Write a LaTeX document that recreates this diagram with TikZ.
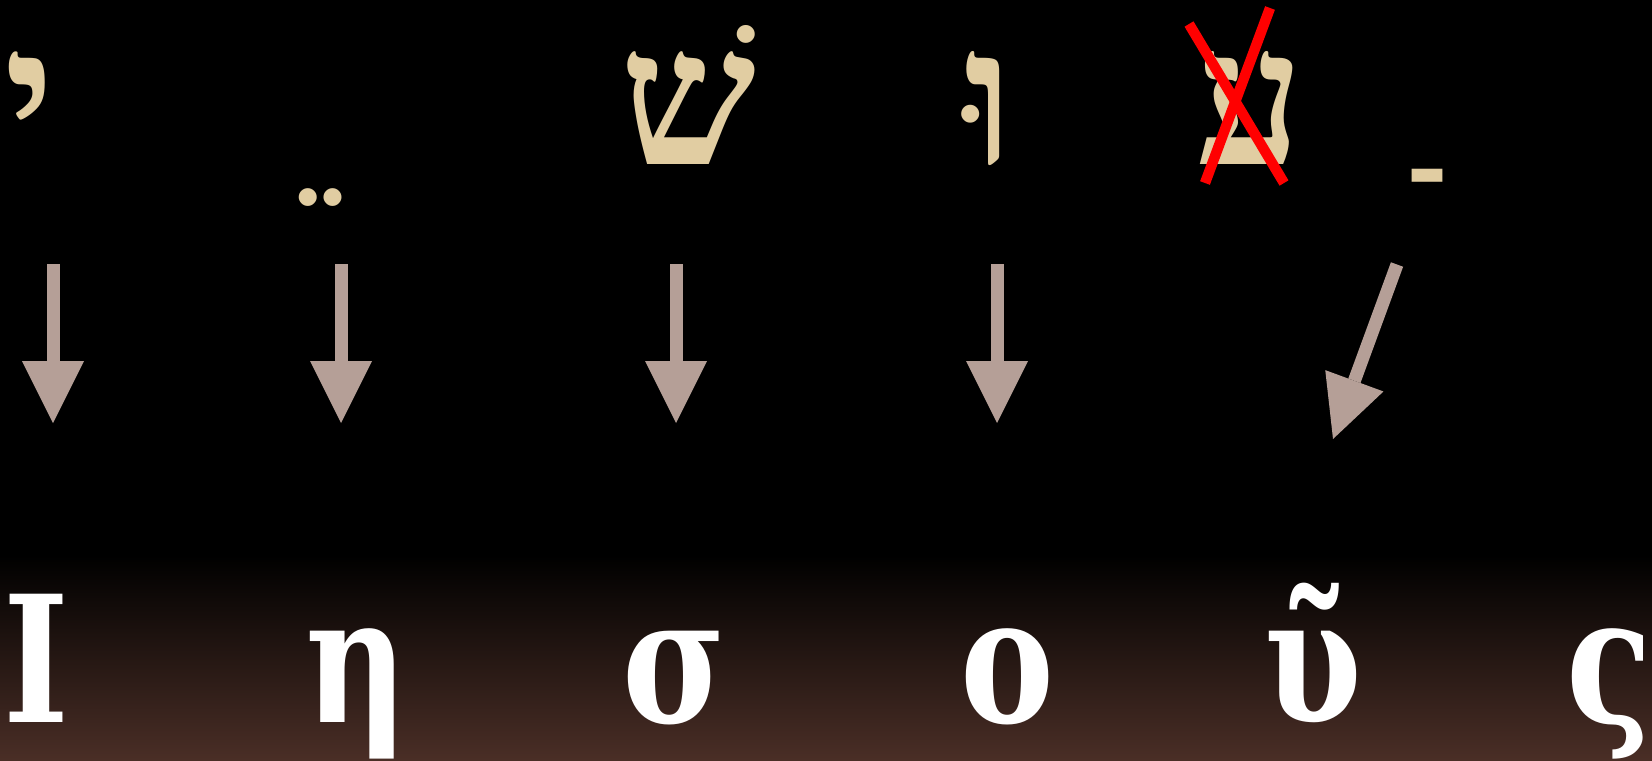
\documentclass[tikz,border=0pt]{standalone}
\usepackage{fontspec}
\usetikzlibrary{arrows.meta}
\TeXXeTstate=1
\newfontfamily\hebfont[Script=Hebrew]{Liberation Serif}
\newfontfamily\grkfont[FakeStretch=0.8]{DejaVu Serif}
\definecolor{hebc}{RGB}{225,205,162}
\definecolor{arrc}{RGB}{181,159,151}
\definecolor{bgbot}{RGB}{74,46,38}
\definecolor{xred}{RGB}{255,0,0}
\begin{document}
\begin{tikzpicture}[x=0.5pt,y=-0.5pt,
  heb/.style={text=hebc, inner sep=0pt, anchor=base, font=\hebfont\bfseries\fontsize{96}{100}\selectfont},
  grk/.style={text=white, inner sep=0pt, anchor=base, font=\grkfont\bfseries\fontsize{88}{92}\selectfont},
  blockarrow/.style={draw=arrc, line width=6.5pt, -{Triangle[length=31pt,width=31pt,line width=0pt,fill=arrc]}},
  crossline/.style={draw=xred, line width=5.2pt}]
\useasboundingbox (0,0) rectangle (1652,760);
\fill[black] (0,0) rectangle (1652,760);
\shade[top color=black, bottom color=bgbot] (0,555) rectangle (1652,760);
% Hebrew
\node[heb] (yod) at (30,164) {\beginR י\endR};
\node[heb] (tsere) at (320,172) {\beginR ֵ\endR};
\node[heb] (shin) at (688,164) {\beginR שׁ\endR};
\node[heb] (vav) at (989,164) {\beginR וּ\endR};
\node[heb] (ayin) at (1250,164) {\beginR ע\endR};
\node[heb] (patah) at (1427,157) {\beginR ַ\endR};
% red cross
\coordinate (xa1) at (1189,24);
\coordinate (xa2) at (1284,183);
\coordinate (xb1) at (1270,8);
\coordinate (xb2) at (1205,183);
\draw[crossline] (xa1) -- (xa2);
\draw[crossline] (xb1) -- (xb2);
% arrows
\coordinate (s1) at (53,264);  \coordinate (t1) at (53,423);
\coordinate (s2) at (341,264); \coordinate (t2) at (341,423);
\coordinate (s3) at (676,264); \coordinate (t3) at (676,423);
\coordinate (s4) at (997,264); \coordinate (t4) at (997,423);
\coordinate (s5) at (1397,264.5); \coordinate (t5) at (1333,439);
\foreach \i in {1,...,5} \draw[blockarrow] (s\i) -- (t\i);
% Greek
\node[grk] (iota) at (36,722) {Ι};
\node[grk] (eta) at (357,722) {η};
\node[grk] (sigma) at (674,722) {σ};
\node[grk] (omicron) at (1007,722) {ο};
\node[grk] (upsilon) at (1313,722) {ῦ};
\node[grk] (fsigma) at (1609,722) {ς};
\end{tikzpicture}
\end{document}
